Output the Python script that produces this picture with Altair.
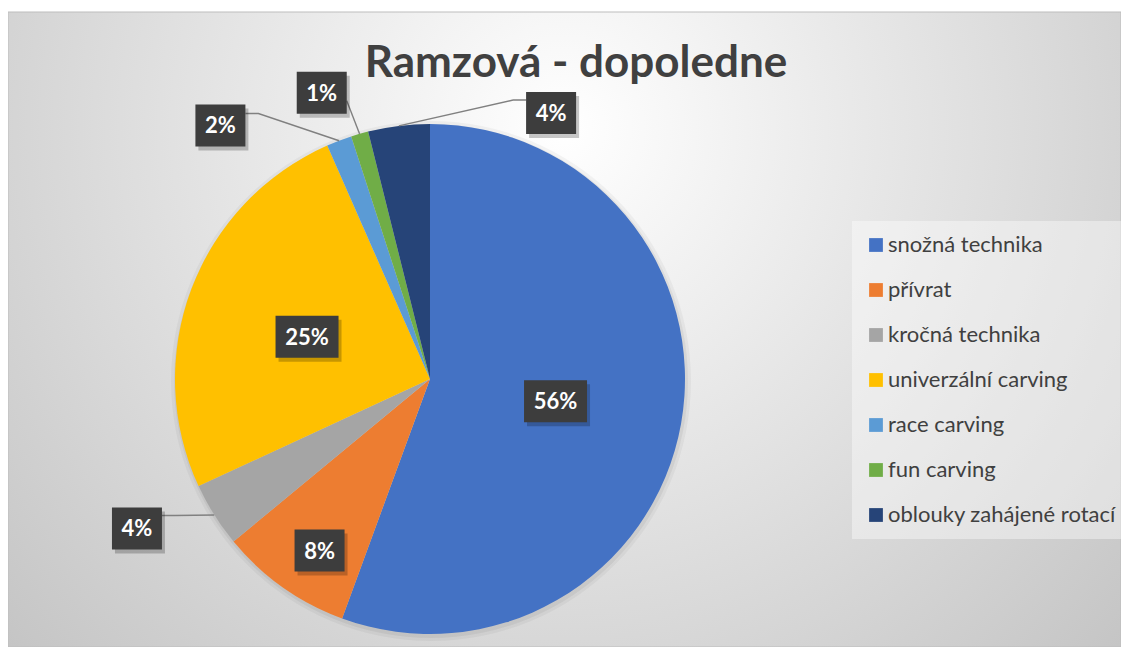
import altair as alt
import pandas as pd
import numpy as np

# ---- data ----
categories = ["snožná technika", "přívrat", "kročná technika", "univerzální carving",
              "race carving", "fun carving", "oblouky zahájené rotací"]
values = [55.6, 8.4, 4.1, 25.3, 1.6, 1.1, 3.9]
colors = ["#4472C4", "#ED7D31", "#A5A5A5", "#FFC000", "#5B9BD5", "#70AD47", "#264478"]
title_text = "Ramzová - dopoledne"

# ---- layout of data labels (radius factor, angular shift in degrees) ----
label_r = [0.50, 0.80, 1.29, 0.51, 1.29, 1.20, 1.146]
label_shift = [0, -2.5, 5.2, -1.7, -18.7, -4.7, 31.5]
lead_side = [0, 0, 1, 0, 1, 1, -1]
lead_dy = [0, 0, -13, 0, -12, 8, -13]
lead_elbow = [0, 0, 13, 0, 13, 0, 13]

W, H = 1113, 639
CX, CY, R = 422, 371, 255

vals = np.array(values, dtype=float)
total = vals.sum()
cum = np.cumsum(vals)
start = cum - vals
mid = (start + vals / 2) / total * 2 * np.pi
la = mid + np.radians(label_shift)
lx = CX + np.array(label_r) * R * np.sin(la)
ly = CY - np.array(label_r) * R * np.cos(la)
texts = [f"{round(v / total * 100):.0f}%" for v in vals]
bw = np.array([50 if len(t) == 2 else 63 for t in texts])
bh = 42

pie_df = pd.DataFrame({"cat": categories, "value": values, "idx": range(len(values))})
lab_df = pd.DataFrame({
    "cat": categories, "text": texts, "lx": lx, "ly": ly + 1,
    "x1": lx - bw / 2, "x2": lx + bw / 2, "y1": ly - bh / 2, "y2": ly + bh / 2,
    "sx1": lx - bw / 2 + 3, "sx2": lx + bw / 2 + 3, "sy1": ly - bh / 2 + 4, "sy2": ly + bh / 2 + 4,
})

rows = []
for i, c in enumerate(categories):
    if lead_side[i] == 0:
        continue
    ax = lx[i] + lead_side[i] * bw[i] / 2
    ay = ly[i] + lead_dy[i]
    ex = ax + lead_side[i] * lead_elbow[i]
    px = CX + R * np.sin(mid[i])
    py = CY - R * np.cos(mid[i])
    rows += [{"cat": c, "k": 0, "px": ax, "py": ay},
             {"cat": c, "k": 1, "px": ex, "py": ay},
             {"cat": c, "k": 2, "px": px, "py": py}]
line_df = pd.DataFrame(rows)

dummy = pd.DataFrame({"a": [0]})

bg = alt.Chart(dummy).mark_rect(
    fill={"gradient": "radial", "x1": 0.5, "y1": 0.32, "r1": 0, "x2": 0.5, "y2": 0.32, "r2": 0.74,
          "stops": [{"offset": 0, "color": "#ffffff"}, {"offset": 1, "color": "#c0c0c0"}]},
    stroke="#bdbdbd", strokeWidth=1,
).encode(x=alt.value(0), x2=alt.value(W), y=alt.value(4), y2=alt.value(H))

pie_shadow = alt.Chart(dummy).mark_arc(theta=0, theta2=6.2832, outerRadius=R + 5,
                                       color="#000000", opacity=0.04).encode(
    x=alt.value(CX + 1), y=alt.value(CY + 2))
pie_shadow2 = alt.Chart(dummy).mark_arc(theta=0, theta2=6.2832, outerRadius=R + 2,
                                        color="#000000", opacity=0.05).encode(
    x=alt.value(CX + 1), y=alt.value(CY + 2))

pie = alt.Chart(pie_df).mark_arc(outerRadius=R).encode(
    theta=alt.Theta("value:Q", stack=True),
    color=alt.Color("cat:N", sort=categories,
                    scale=alt.Scale(domain=categories, range=colors),
                    legend=alt.Legend(title=None, orient="none", legendX=844, legendY=213,
                                      padding=13, fillColor="rgba(255,255,255,0.4)",
                                      symbolType="square", symbolSize=190, symbolStrokeWidth=0,
                                      labelFont="Lato", labelFontSize=22, labelColor="#404040",
                                      labelOffset=1, rowPadding=23, labelLimit=400)),
    order=alt.Order("idx:Q"),
    x=alt.value(CX), y=alt.value(CY),
)

lines = alt.Chart(line_df).mark_line(color="#808080", strokeWidth=1.4).encode(
    x=alt.X("px:Q", scale=None, axis=None),
    y=alt.Y("py:Q", scale=None, axis=None),
    detail="cat:N", order="k:Q",
)

box_shadow = alt.Chart(lab_df).mark_rect(color="#000000", opacity=0.22).encode(
    x=alt.X("sx1:Q", scale=None, axis=None), x2="sx2:Q",
    y=alt.Y("sy1:Q", scale=None, axis=None), y2="sy2:Q",
)
boxes = alt.Chart(lab_df).mark_rect(color="#3d3d3d").encode(
    x=alt.X("x1:Q", scale=None, axis=None), x2="x2:Q",
    y=alt.Y("y1:Q", scale=None, axis=None), y2="y2:Q",
)
label_text = alt.Chart(lab_df).mark_text(font="Lato", fontWeight="bold", fontSize=22,
                                         color="#ffffff", baseline="middle", align="center").encode(
    x=alt.X("lx:Q", scale=None, axis=None),
    y=alt.Y("ly:Q", scale=None, axis=None),
    text="text:N",
)

title = alt.Chart(dummy).mark_text(text=title_text, font="Lato", fontWeight="bold", fontSize=44,
                                   color="#404040", align="center", baseline="alphabetic").encode(
    x=alt.value(568), y=alt.value(69))

chart = alt.layer(bg, pie_shadow, pie_shadow2, pie, lines, box_shadow, boxes, label_text, title).properties(
    width=W, height=H,
    autosize=alt.AutoSizeParams(type="none"),
    padding={"left": 0, "top": 0, "right": 0, "bottom": 0},
).configure_view(stroke=None)

chart.save("out.html", embed_options={"renderer": "svg", "actions": False})
